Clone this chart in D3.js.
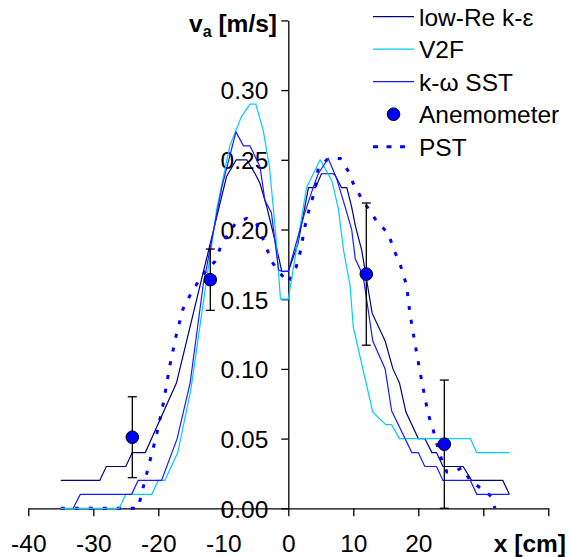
<!DOCTYPE html>
<html><head><meta charset="utf-8">
<script src="https://cdn.jsdelivr.net/npm/d3@7"></script>
<style>
html,body{margin:0;padding:0;background:#fff;}
svg{display:block;font-family:"Liberation Sans",Arial,sans-serif;}
</style></head>
<body>
<svg id="chart" width="570" height="557"></svg>
<script>
// ---- data ----
const seriesNames = ["low-Re k-ε", "V2F", "k-ω SST", "Anemometer", "PST"];
const xTickValues = [-40, -30, -20, -10, 0, 10, 20, 30, 40];
const xTickLabels = ["-40", "-30", "-20", "-10", "0", "10", "20", "", ""];
const yTickValues = [0, 0.05, 0.10, 0.15, 0.20, 0.25, 0.30, 0.35];
const yTickLabels = ["0.00", "0.05", "0.10", "0.15", "0.20", "0.25", "0.30", ""];

const kepsX = [-35, -29, -28, -25, -24, -22, -17.2, -13.1, -9.5, -8, -6.4, -5.1, -4.35, -3.3, -2.05, -1.0, 0, 1.5, 3.1, 4.2, 5.1, 6.9, 7.2, 8.2, 9.0, 9.75, 10.3, 11.3, 12.9, 14.9, 16.1, 17.1, 18.1, 20.0, 21.0, 22.1, 22.8, 23.8, 26.9, 28.2, 33.0, 34.0];
const kepsY = [0.02, 0.02, 0.03, 0.03, 0.04, 0.04, 0.09, 0.169, 0.238, 0.25, 0.25, 0.24, 0.233, 0.216, 0.192, 0.17, 0.17, 0.19, 0.23, 0.23, 0.24, 0.24, 0.239, 0.23, 0.23, 0.216, 0.203, 0.185, 0.14, 0.12, 0.10, 0.09, 0.069, 0.05, 0.05, 0.04, 0.04, 0.03, 0.03, 0.02, 0.02, 0.01];

const v2fX = [-35, -26, -25, -21, -20, -19, -17, -15, -13, -11, -9.0, -7.2, -5.9, -5.0, -3.85, -2.9, -2.0, -1.2, 0, 2.8, 4.9, 6.7, 7.7, 8.5, 9.5, 10.0, 13.0, 15.0, 15.9, 17.1, 28.0, 29.0, 34.0];
const v2fY = [0, 0, 0.01, 0.01, 0.02, 0.02, 0.04, 0.085, 0.15, 0.215, 0.26, 0.281, 0.29, 0.29, 0.271, 0.245, 0.20, 0.15, 0.15, 0.23, 0.25, 0.235, 0.215, 0.185, 0.16, 0.13, 0.069, 0.06, 0.06, 0.05, 0.05, 0.04, 0.04];

const sstX = [-33.1, -32, -24.1, -23.1, -19.5, -17.1, -15.1, -13.1, -10.2, -8.05, -6.9, -5.9, -4.35, -3.6, -2.6, -1.5, -1.0, 0, 1.2, 2.4, 3.6, 4.6, 6.15, 7.4, 8.7, 9.75, 10.3, 11.5, 13.0, 14.9, 15.9, 19.0, 20.0, 21.0, 22.8, 23.8, 28.0, 29.0, 34.0];
const sstY = [0, 0.01, 0.01, 0.02, 0.02, 0.05, 0.09, 0.16, 0.231, 0.27, 0.26, 0.26, 0.245, 0.221, 0.212, 0.171, 0.17, 0.17, 0.19, 0.21, 0.227, 0.24, 0.251, 0.237, 0.217, 0.20, 0.179, 0.167, 0.12, 0.10, 0.07, 0.04, 0.04, 0.03, 0.03, 0.02, 0.02, 0.01, 0.01];

const pstX = [-35, -23.1, -22.6, -21.5, -20.2, -19.2, -18.2, -17.2, -16.2, -15.1, -13.8, -12.6, -11.3, -10.2, -8.2, -6.4, -4.9, -3.6, -2.55, -1.5, 0, 1.2, 1.8, 2.6, 3.3, 4.1, 4.6, 6.15, 8.0, 9.2, 10.0, 11.3, 13.6, 15.4, 16.2, 17.2, 18.2, 18.7, 19.5, 20.3, 21.5, 22.3, 23.1, 23.8, 24.4, 25.4, 26.7, 28.0, 31.0, 31.8];
const pstY = [0, 0, 0.01, 0.03, 0.054, 0.076, 0.103, 0.125, 0.143, 0.153, 0.163, 0.171, 0.177, 0.19, 0.204, 0.208, 0.204, 0.19, 0.177, 0.17, 0.162, 0.173, 0.183, 0.203, 0.216, 0.228, 0.244, 0.251, 0.251, 0.242, 0.233, 0.222, 0.206, 0.197, 0.186, 0.175, 0.16, 0.14, 0.118, 0.097, 0.068, 0.056, 0.042, 0.032, 0.026, 0.026, 0.029, 0.02, 0.0095, 0];

const anemX = [-24, -12, 12, 24];
const anemY = [0.051, 0.164, 0.168, 0.046];
const anemErr = [0.029, 0.022, 0.051, 0.046];

// ---- layout ----
const svg = d3.select("#chart");
const x = d3.scaleLinear().domain([-40, 40]).range([28.3, 548.3]);
const y = d3.scaleLinear().domain([0, 0.35]).range([508.3, 20.4]);
const FS = 24.5;
const FF = "'Liberation Sans',Arial,sans-serif";

// axes
const gx = svg.append("g").attr("transform", `translate(0,${y(0)})`)
  .call(d3.axisBottom(x).tickValues(xTickValues).tickSize(8).tickSizeOuter(0)
    .tickFormat((d, i) => xTickLabels[i]));
gx.select(".domain").attr("stroke", "#000").attr("stroke-width", 1.3);
gx.selectAll(".tick line").attr("stroke", "#000").attr("stroke-width", 1.3);
gx.selectAll(".tick text").attr("y", 43.7).attr("dy", 0)
  .attr("font-size", FS).attr("font-family", FF).attr("fill", "#000");

const gy = svg.append("g").attr("transform", `translate(${x(0)},0)`)
  .call(d3.axisLeft(y).tickValues(yTickValues).tickSize(7).tickSizeOuter(0)
    .tickFormat((d, i) => yTickLabels[i]));
gy.select(".domain").attr("stroke", "#000").attr("stroke-width", 1.3);
gy.selectAll(".tick line").attr("stroke", "#000").attr("stroke-width", 1.3);
gy.selectAll(".tick text").attr("x", -20).attr("dy", "0.36em")
  .attr("font-size", FS).attr("font-family", FF).attr("fill", "#000");

// axis titles
const yt = svg.append("text").attr("x", 277).attr("y", 32).attr("text-anchor", "end")
  .attr("font-size", FS).attr("font-weight", "bold").attr("font-family", FF);
yt.append("tspan").text("v");
yt.append("tspan").attr("font-size", 16).attr("dy", 5).text("a");
yt.append("tspan").attr("dy", -5).text(" [m/s]");

svg.append("text").attr("x", 566).attr("y", 552).attr("text-anchor", "end")
  .attr("font-size", FS).attr("font-weight", "bold").attr("font-family", FF).text("x [cm]");

// lines
const line = d3.line().x(d => x(d[0])).y(d => y(d[1]));
const zip = (a, b) => a.map((v, i) => [v, b[i]]);

svg.append("path").datum(zip(pstX, pstY)).attr("d", line)
  .attr("fill", "none").attr("stroke", "#0000ff").attr("stroke-width", 3)
  .attr("stroke-dasharray", "4,10");
svg.append("path").datum(zip(kepsX, kepsY)).attr("d", line)
  .attr("fill", "none").attr("stroke", "#000080").attr("stroke-width", 1.2);
svg.append("path").datum(zip(v2fX, v2fY)).attr("d", line)
  .attr("fill", "none").attr("stroke", "#00ccff").attr("stroke-width", 1.2);
svg.append("path").datum(zip(sstX, sstY)).attr("d", line)
  .attr("fill", "none").attr("stroke", "#1a1aff").attr("stroke-width", 1.2);

// anemometer error bars + markers
const anem = anemX.map((v, i) => ({x: v, y: anemY[i], e: anemErr[i]}));
const eb = svg.append("g");
anem.forEach(d => {
  eb.append("line").attr("x1", x(d.x)).attr("x2", x(d.x)).attr("y1", y(d.y - d.e)).attr("y2", y(d.y + d.e))
    .attr("stroke", "#000").attr("stroke-width", 1.3);
  [d.y - d.e, d.y + d.e].forEach(v => {
    eb.append("line").attr("x1", x(d.x) - 4.5).attr("x2", x(d.x) + 4.5).attr("y1", y(v)).attr("y2", y(v))
      .attr("stroke", "#000").attr("stroke-width", 1.3);
  });
});
svg.append("g").selectAll("circle").data(anem).join("circle")
  .attr("cx", d => x(d.x)).attr("cy", d => y(d.y)).attr("r", 6.3)
  .attr("fill", "#0000ff").attr("stroke", "#000").attr("stroke-width", 1);

// legend
const legY = [16.7, 49.2, 81.7, 114.2, 146.7];
const lg = svg.append("g");
const lineStyles = [
  {c: "#000080", w: 1.2, dash: null, x2: 414},
  {c: "#00ccff", w: 1.2, dash: null, x2: 414},
  {c: "#1a1aff", w: 1.2, dash: null, x2: 414},
  null,
  {c: "#0000ff", w: 3, dash: "5,8.5", x2: 407}
];
seriesNames.forEach((name, i) => {
  const ly = legY[i];
  const st = lineStyles[i];
  if (st) {
    lg.append("line").attr("x1", 373).attr("x2", st.x2).attr("y1", ly).attr("y2", ly)
      .attr("stroke", st.c).attr("stroke-width", st.w).attr("stroke-dasharray", st.dash);
  } else {
    lg.append("circle").attr("cx", 393.5).attr("cy", ly).attr("r", 6.3)
      .attr("fill", "#0000ff").attr("stroke", "#000").attr("stroke-width", 1);
  }
  lg.append("text").attr("x", 419).attr("y", ly + 9).attr("font-size", FS).attr("font-family", FF)
    .attr("fill", "#000").text(name);
});
</script>
</body></html>
